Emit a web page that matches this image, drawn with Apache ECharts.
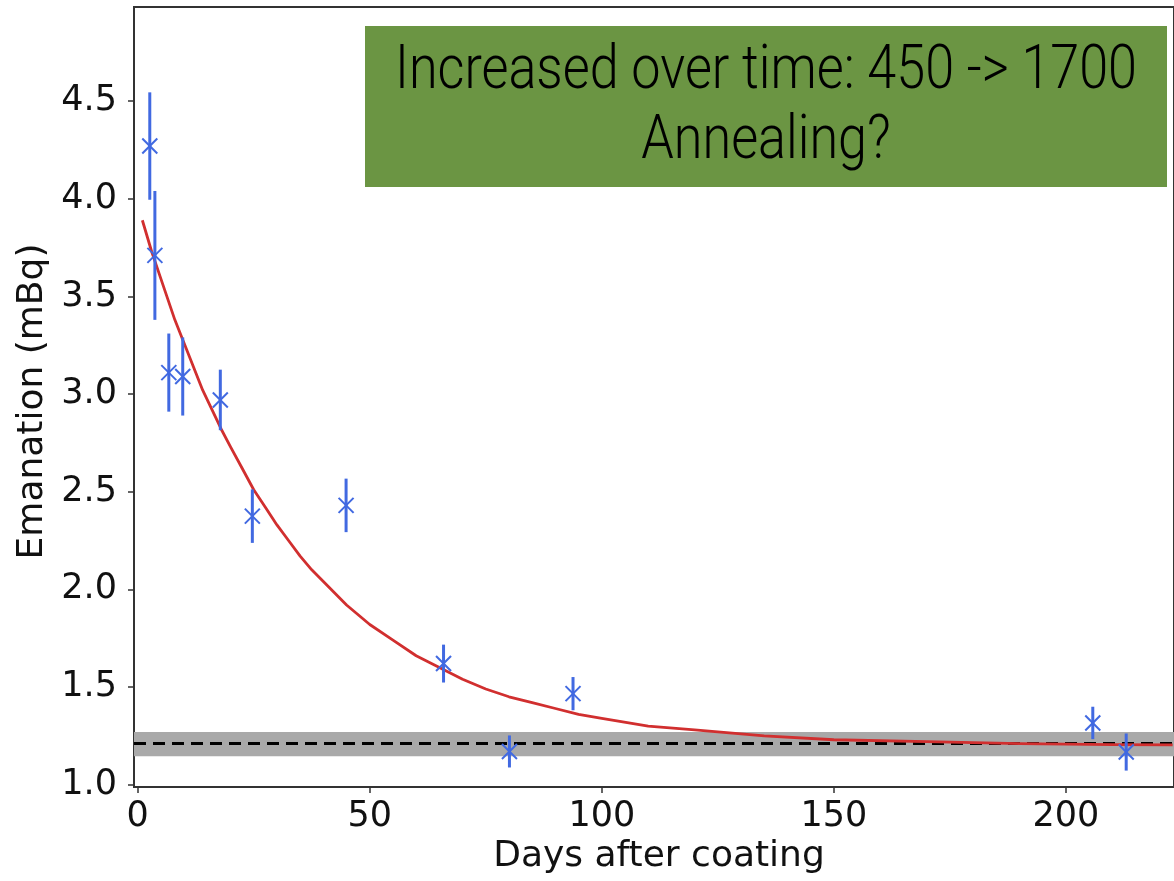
<!DOCTYPE html>
<html><head><meta charset="utf-8">
<script src="https://cdn.jsdelivr.net/npm/echarts@6/dist/echarts.min.js"></script>
<style>html,body{margin:0;padding:0;background:#fff}#c{width:1174px;height:881px}</style>
</head><body><div id="c"></div>
<script>
// Measured points (days after coating, emanation in mBq, error)
const days      = [2.6, 3.7, 6.7, 9.7, 17.8, 24.7, 44.9, 65.9, 80.1, 93.8, 205.8, 213.0];
const emanation = [4.27, 3.71, 3.11, 3.09, 2.97, 2.375, 2.43, 1.62, 1.17, 1.466, 1.316, 1.167];
const errors    = [0.275, 0.33, 0.20, 0.20, 0.155, 0.137, 0.137, 0.097, 0.082, 0.085, 0.083, 0.095];

// Red fit curve
const fitDays   = [1, 3, 5, 8, 10, 12, 14, 16, 18, 20, 22.5, 25, 27.5, 30, 32.5, 35, 37.5, 40, 45, 50, 55, 60, 65, 70, 75, 80, 85, 90, 95, 100, 110, 120, 135, 150, 170, 190, 210, 223];
const fitValues = [3.89, 3.73, 3.59, 3.38, 3.26, 3.14, 3.02, 2.92, 2.82, 2.73, 2.62, 2.51, 2.42, 2.33, 2.25, 2.17, 2.10, 2.04, 1.92, 1.82, 1.74, 1.66, 1.60, 1.54, 1.49, 1.45, 1.42, 1.39, 1.36, 1.34, 1.30, 1.28, 1.25, 1.23, 1.22, 1.21, 1.205, 1.204];

// Background level and its band
const backgroundLevel = 1.206;
const backgroundBand = [1.145, 1.269];

const xTicks = [0, 50, 100, 150, 200];
const yTicks = [1.0, 1.5, 2.0, 2.5, 3.0, 3.5, 4.0, 4.5];
const xTitle = 'Days after coating';
const yTitle = 'Emanation (mBq)';
const annotationLines = ['Increased over time: 450 -> 1700', 'Annealing?'];

const points = days.map((d, i) => [d, emanation[i], errors[i]]);
const fitData = fitDays.map((d, i) => [d, fitValues[i]]);

const BLUE = '#4169e1';
const RED = '#d12f2f';
const AXIS = '#333';
const FONT = "'DejaVu Sans', sans-serif";

// annotation font width scaling (condensed look)
const annFont = "300 62px Roboto";
const mctx = document.createElement('canvas').getContext('2d');
mctx.font = annFont;
const annScale = 742 / mctx.measureText(annotationLines[0]).width;

const chart = echarts.init(document.getElementById('c'), null, {renderer: 'canvas'});
chart.setOption({
  animation: false,
  backgroundColor: '#fff',
  grid: {left: 134, top: 7, right: -2, bottom: 94, show: true, borderColor: AXIS, borderWidth: 2, backgroundColor: 'transparent'},
  xAxis: {
    type: 'value', min: -0.8, max: 223.3,
    name: xTitle, nameLocation: 'middle', nameGap: 52,
    nameTextStyle: {fontFamily: FONT, fontSize: 36, color: '#111', padding: [0, 0, 0, 10]},
    axisLine: {show: true, onZero: false, lineStyle: {color: AXIS, width: 2}},
    axisTick: {show: true, length: 6, inside: false, customValues: xTicks, lineStyle: {color: AXIS, width: 1.5}},
    axisLabel: {customValues: xTicks, fontFamily: FONT, fontSize: 35, color: '#111', margin: 12},
    splitLine: {show: false}
  },
  yAxis: {
    type: 'value', min: 0.988, max: 4.982,
    name: yTitle, nameLocation: 'middle', nameGap: 82, nameRotate: 90,
    nameTextStyle: {fontFamily: FONT, fontSize: 36, color: '#111', padding: [0, 0, 0, -9]},
    axisLine: {show: true, onZero: false, lineStyle: {color: AXIS, width: 2}},
    axisTick: {show: true, length: 6, inside: false, customValues: yTicks, lineStyle: {color: AXIS, width: 1.5}},
    axisLabel: {customValues: yTicks, fontFamily: FONT, fontSize: 35, color: '#111', margin: 17,
      formatter: v => Number(v).toFixed(1)},
    splitLine: {show: false}
  },
  series: [
    {
      type: 'line', data: [], silent: true, z: 1,
      markArea: {silent: true, z: 1, itemStyle: {color: '#a9a9a9', opacity: 1},
        data: [[{yAxis: backgroundBand[0]}, {yAxis: backgroundBand[1]}]]},
      markLine: {silent: true, z: 2, symbol: 'none', label: {show: false},
        lineStyle: {color: '#000', type: [12, 7], width: 3},
        data: [{yAxis: backgroundLevel}]}
    },
    {
      type: 'line', data: fitData, smooth: false, showSymbol: false, silent: true,
      lineStyle: {color: RED, width: 2.8, join: 'round'}, z: 6
    },
    {
      type: 'custom', data: points, z: 7,
      renderItem: function (params, api) {
        const x = api.value(0), y = api.value(1), e = api.value(2);
        const c = api.coord([x, y]);
        const t = api.coord([x, y + e]);
        const b = api.coord([x, y - e]);
        const h = 7.5;
        return {type: 'group', children: [
          {type: 'line', shape: {x1: c[0], y1: t[1], x2: c[0], y2: b[1]}, style: {stroke: BLUE, lineWidth: 3}},
          {type: 'line', shape: {x1: c[0] - h, y1: c[1] - h, x2: c[0] + h, y2: c[1] + h}, style: {stroke: BLUE, lineWidth: 2}},
          {type: 'line', shape: {x1: c[0] - h, y1: c[1] + h, x2: c[0] + h, y2: c[1] - h}, style: {stroke: BLUE, lineWidth: 2}}
        ]};
      }
    }
  ],
  graphic: [
    {type: 'rect', z: 100, shape: {x: 365, y: 26, width: 802, height: 161}, style: {fill: '#6b9543'}},
    {type: 'text', z: 101, x: 766, y: 72, scaleX: annScale,
      style: {text: annotationLines[0], x: 0, y: 0, font: annFont, fill: '#000', align: 'center', verticalAlign: 'middle'}},
    {type: 'text', z: 101, x: 766, y: 142, scaleX: annScale,
      style: {text: annotationLines[1], x: 0, y: 0, font: annFont, fill: '#000', align: 'center', verticalAlign: 'middle'}}
  ]
});
</script>
</body></html>
